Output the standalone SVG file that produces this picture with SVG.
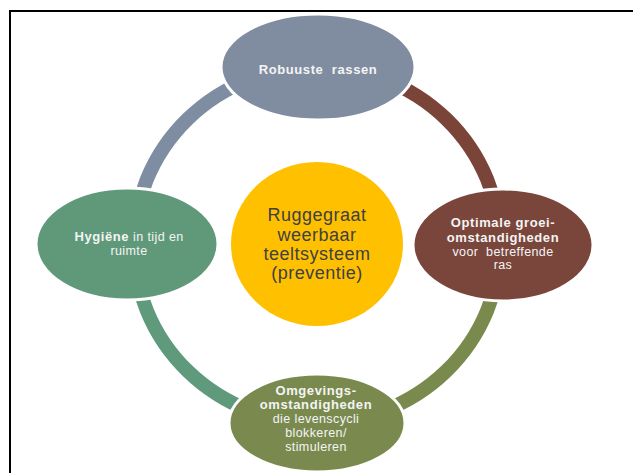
<svg xmlns="http://www.w3.org/2000/svg" width="633" height="473" viewBox="0 0 633 473">
<style>
.ring{fill:none;stroke-width:14;stroke-linecap:butt}
.node{stroke:#ffffff;stroke-width:3}
.t{font-family:"Liberation Sans",Arial,sans-serif;fill:#f4f4f4;text-anchor:middle;font-size:12.5px;letter-spacing:0.4px}
.b{font-weight:bold;font-size:13px;letter-spacing:0.6px}
.c{font-family:"Liberation Sans",Arial,sans-serif;fill:#404040;text-anchor:middle;font-size:18px;letter-spacing:0.5px}
</style>
<rect x="0" y="0" width="633" height="473" fill="#ffffff"/>
<path d="M10,473 V11 H633" fill="none" stroke="#000000" stroke-width="2"/>
<g id="connectors">
<path class="ring" stroke="#7f8da2" d="M134,245 A183,178 0 0 1 317,67"/>
<path class="ring" stroke="#7a4538" d="M317,67 A183,178 0 0 1 500,245"/>
<path class="ring" stroke="#7a8a4c" d="M500,245 A183,178 0 0 1 317,423"/>
<path class="ring" stroke="#5f9a7c" d="M317,423 A183,178 0 0 1 134,245"/>
</g>
<g id="center">
<ellipse cx="317" cy="244" rx="86" ry="82" fill="#ffc000"/>
<text class="c" x="317" y="221">Ruggegraat</text>
<text class="c" x="317" y="241">weerbaar</text>
<text class="c" x="317" y="260">teeltsysteem</text>
<text class="c" x="317" y="279">(preventie)</text>
</g>
<g id="robuuste">
<ellipse class="node" cx="318" cy="67" rx="97" ry="53" fill="#808da0"/>
<text class="t b" x="318" y="74" xml:space="preserve">Robuuste  rassen</text>
</g>
<g id="optimale">
<ellipse class="node" cx="503" cy="245" rx="90" ry="56" fill="#7a463c"/>
<text class="t b" x="503" y="227">Optimale groei-</text>
<text class="t b" x="503" y="242">omstandigheden</text>
<text class="t" x="503" y="256" xml:space="preserve">voor  betreffende</text>
<text class="t" x="503" y="269">ras</text>
</g>
<g id="omgevings">
<ellipse class="node" cx="317" cy="423" rx="88" ry="49" fill="#7a8a4f"/>
<text class="t b" x="316" y="395">Omgevings-</text>
<text class="t b" x="316" y="409">omstandigheden</text>
<text class="t" x="316" y="423">die levenscycli</text>
<text class="t" x="316" y="437">blokkeren/</text>
<text class="t" x="316" y="451">stimuleren</text>
</g>
<g id="hygiene">
<ellipse class="node" cx="127" cy="244" rx="91" ry="56" fill="#60997a"/>
<text class="t" x="129" y="241"><tspan class="b">Hygiëne</tspan> in tijd en</text>
<text class="t" x="129" y="255">ruimte</text>
</g>
</svg>
